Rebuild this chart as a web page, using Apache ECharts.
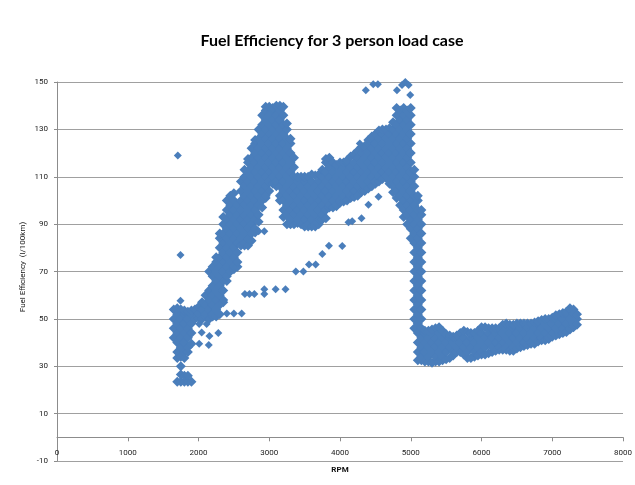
<!DOCTYPE html>
<html>
<head>
<meta charset="utf-8">
<script src="https://cdn.jsdelivr.net/npm/echarts@6/dist/echarts.min.js"></script>
<style>
html,body{margin:0;padding:0;background:#fff;}
#chart{width:635px;height:485px;}
</style>
</head>
<body>
<div id="chart"></div>
<script>
// ---- data: [rpm, [fuel values in that rpm column]] ----
const launchCluster = [
  [1650,[42,46,50,54]],
  [1700,[23.5,33.5,36,40,44,48,52,54.5]],
  [1750,[23.5,26.5,30,34,38,42,46,50,54]],
  [1800,[23.5,26,33.5,36,40,44,48,52,53.5]],
  [1850,[23.5,26,36,38,42,46,50,53]],
  [1900,[23.5,39.5,44,48,52,53.5]],
  [1950,[50,54]],
  [2000,[50.5,52,55]],
  [2050,[50,54,57]],
  [2100,[51,52,56,60]],
  [2150,[50,54,58,62,70]],
  [2200,[51,52,56,60,64,68,72]],
  [2250,[51,54,58,62,66,70,74,76]]
];
const climbChains = [
  [2300,[52,56,60,64,68,72,76,80,84,86]],
  [2350,[57,58,62,66,70,74,78,82,86,90,93]],
  [2400,[66,68,72,76,80,84,88,92,96,100]],
  [2450,[70,74,78,82,86,90,94,98,102]],
  [2500,[71,72,76,80,84,88,92,96,100,103]],
  [2550,[72,74,78,82,86,90,94,98]],
  [2600,[81,84,88,92,96,100,104,108]],
  [2650,[81,82,86,90,94,98,102,106,110,113]],
  [2700,[81,84,88,92,96,100,104,108,112,116,117.5]],
  [2750,[83,86,90,94,98,102,106,110,114,118,122]],
  [2800,[86.5,88,92,96,100,104,108,112,116,120,124,125.5]],
  [2850,[91,94,98,102,106,110,114,118,122,126,130]],
  [2900,[97,100,104,108,112,116,120,124,128,132,136]],
  [2950,[101,102,106,110,114,118,122,126,130,134,138,139.5]],
  [3000,[104,108,112,116,120,124,128,132,136,139.5]],
  [3050,[107,110,114,118,122,126,130,134,138,139]],
  [3100,[106,108,112,116,120,124,128,132,136,140]],
  [3150,[100,102,106,110,114,118,122,126,130,134,138,140]],
  [3200,[93,96,100,104,108,112,116,120,124,128,132,136,139.5]],
  [3250,[90,94,98,102,106,110,114,118,122,126,130,132.5]],
  [3300,[90,92,96,100,104,108,112,116,120,124,126]],
  [3350,[90,94,98,102,106,110,114,118]]
];
const plateau = [
  [3400,[90.5,92,96,100,104,108,110]],
  [3450,[90,94,98,102,106,110]],
  [3500,[89,92,96,100,104,108,110]],
  [3550,[89,90,94,98,102,106,110]],
  [3600,[89,92,96,100,104,108,111]],
  [3650,[89,90,94,98,102,106,110.5]],
  [3700,[90,92,96,100,104,108,111]],
  [3750,[92,94,98,102,106,110,113]],
  [3800,[92.5,96,100,104,108,112,116,117.5]],
  [3850,[97,98,102,106,110,114,118]],
  [3900,[97,100,104,108,112,116]],
  [3950,[97.5,98,102,106,110,114,115]],
  [4000,[99,100,104,108,112,116]],
  [4050,[99.5,102,106,110,114,116]],
  [4100,[100,104,108,112,116,117]],
  [4150,[101,102,106,110,114,118.5]],
  [4200,[101.5,104,108,112,116,119.5]],
  [4250,[102,106,110,114,118,121]],
  [4300,[103.5,104,108,112,116,120,122.5]],
  [4350,[104,106,110,114,118,122,123]],
  [4400,[105,108,112,116,120,124,125.5]],
  [4450,[106,110,114,118,122,126,127]],
  [4500,[107,108,112,116,120,124,128]],
  [4550,[108,110,114,118,122,126,129.5]],
  [4600,[109,112,116,120,124,128,130]],
  [4650,[110,114,118,122,126,130]],
  [4700,[107,108,112,116,120,124,128,130.5]],
  [4750,[103.5,106,110,114,118,122,126,130,133]]
];
const dropLeg = [
  [4800,[101,104,108,112,116,120,124,128,132,136,139]],
  [4850,[98,102,106,110,114,118,122,126,130,134,138]],
  [4900,[93,96,100,104,108,112,116,120,124,128,132,136,139]],
  [4950,[90,94,98,102,106,110,114,118,122,126,130,134,138]],
  [5000,[84,88,92,96,100,104,108,112,116,120,124,128,132,136,139]],
  [5050,[46,50,54,58,62,66,70,74,78,82,86,90,94,98,102,106,110,113]],
  [5100,[32.5,36,40,44,48,52,56,60,64,68,72,76,80,84,88,92,96,100,102]],
  [5150,[32.5,34,38,42,46,50,54,58,62,66,70,74,78,82,86,90,94,96]],
  [5200,[32,36,40,44,45]]
];
const tail = [
  [5250,[32,34,38,42,45]],
  [5300,[31.5,36,40,44,45.5]],
  [5350,[32,34,38,42,46]],
  [5400,[32,36,40,44,46.5]],
  [5450,[32.5,34,38,42,45]],
  [5500,[33,36,40,43.5]],
  [5550,[33.5,38,42,43]],
  [5600,[34.5,36,40,42.5]],
  [5650,[36,38,42,43]],
  [5700,[36,40,44]],
  [5750,[35,38,42,45]],
  [5800,[33.5,36,40,44.5]],
  [5850,[33.5,38,42,44]],
  [5900,[34,36,40,44]],
  [5950,[34.5,38,42,45]],
  [6000,[35,36,40,44,46.5]],
  [6050,[35,38,42,46.5]],
  [6100,[35.5,40,44,46]],
  [6150,[36,38,42,46]],
  [6200,[36.5,40,44,46]],
  [6250,[37,38,42,46]],
  [6300,[37,40,44,47.5]],
  [6350,[37,38,42,46,48]],
  [6400,[36.5,40,44,47.5]],
  [6450,[36.5,38,42,46,47.5]],
  [6500,[37.5,40,44,48]],
  [6550,[38,42,46,48]],
  [6600,[38.5,40,44,48]],
  [6650,[39,42,46,48]],
  [6700,[39.5,40,44,48]],
  [6750,[39.5,42,46,48.5]],
  [6800,[40.5,44,48,49]],
  [6850,[41,42,46,49.5]],
  [6900,[41,44,48,50]],
  [6950,[41.5,42,46,50]],
  [7000,[42.5,44,48,50.5]],
  [7050,[43,46,50,51.5]],
  [7100,[43.5,44,48,52]],
  [7150,[44,46,50,52.5]],
  [7200,[44.5,48,52,53]],
  [7250,[45.5,46,50,54,54.5]],
  [7300,[46.5,48,52,54]],
  [7350,[47.5,50,52]]
];
// isolated points [rpm, fuel]
const strays = [
  [1708,119],[1746,77],[1746,57.6],
  [2010,47.8],[2115,47.8],[2045,44.2],[2155,42.8],[2280,44],[2010,39.5],[2145,39],
  [2400,52.3],[2500,52.3],[2610,52.3],
  [2655,60.5],[2720,60.5],[2790,60.5],[2930,60.5],[2930,62.5],[3090,62.5],[3230,62.5],
  [2850,87],[2930,87],
  [3375,70],[3482,70],[3562,73],[3656,73],[3750,77.4],[3844,80.9],[4032,80.8],
  [4120,90.8],[4172,91.2],[4304,92.5],[4402,98.2],[4544,101.6],
  [4280,124],
  [4365,146.5],[4470,149],[4535,149],
  [4805,146.5],[4876,148.7],[4923,150],[4970,148.7],[4993,144.5]
];
const xTickLabels = ['0','1000','2000','3000','4000','5000','6000','7000','8000'];
const yTickLabels = ['-10','10','30','50','70','90','110','130','150'];

const toPoints = cols => cols.flatMap(([r, vs]) => vs.map(v => [r, v]));
const cloud = toPoints([].concat(launchCluster, climbChains, plateau, dropLeg, tail));

const blue = '#4a7ebb';
const chart = echarts.init(document.getElementById('chart'), null, {renderer: 'canvas'});
chart.setOption({
  animation: false,
  backgroundColor: '#ffffff',
  title: {
    text: 'Fuel Efficiency for 3 person load case',
    left: 327, top: 28, textAlign: 'center',
    textStyle: {fontFamily: 'Lato', fontWeight: 'bold', fontSize: 16, color: '#000'}
  },
  grid: {left: 57, right: 10, top: 82, bottom: 24, containLabel: false},
  xAxis: {
    type: 'value', min: 0, max: 8000, interval: 1000,
    axisLine: {show: true, onZero: true, onZeroAxisIndex: 0, lineStyle: {color: '#8c8c8c', width: 1}},
    axisTick: {show: true, length: 4, lineStyle: {color: '#8c8c8c'}},
    axisLabel: {margin: -12, fontSize: 8, fontFamily: 'Roboto', color: '#222',
      formatter: (v) => xTickLabels[Math.round(v / 1000)]},
    splitLine: {show: false}
  },
  yAxis: [
    {type: 'value', min: -10, max: 150, show: false},
    {
      type: 'value', min: 0, max: 160, interval: 20, position: 'left',
      axisLine: {show: true, lineStyle: {color: '#8c8c8c', width: 1}},
      axisTick: {show: true, length: 3, lineStyle: {color: '#8c8c8c'}},
      axisLabel: {margin: 9, fontSize: 8, fontFamily: 'Roboto', color: '#222',
        formatter: (v) => yTickLabels[Math.round(v / 20)]},
      splitLine: {show: true, lineStyle: {color: '#a0a0a0', width: 1}}
    }
  ],
  graphic: [
    {type: 'text', x: 23, y: 267, rotation: Math.PI / 2,
      style: {text: 'Fuel Efficiency  (l/100km)', fontSize: 8, fontFamily: 'Roboto', fill: '#111',
        align: 'center', verticalAlign: 'middle'}},
    {type: 'text', x: 340, y: 470,
      style: {text: 'RPM', fontSize: 8, fontWeight: 'bold', fontFamily: 'Roboto', fill: '#111',
        align: 'center', verticalAlign: 'middle'}}
  ],
  series: [
    {type: 'scatter', xAxisIndex: 0, yAxisIndex: 0, data: cloud, symbol: 'diamond', symbolSize: 10,
      itemStyle: {color: blue, opacity: 1}, silent: true, large: false},
    {type: 'scatter', xAxisIndex: 0, yAxisIndex: 0, data: strays, symbol: 'diamond', symbolSize: 8,
      itemStyle: {color: blue, opacity: 1}, silent: true}
  ]
});
</script>
</body>
</html>
